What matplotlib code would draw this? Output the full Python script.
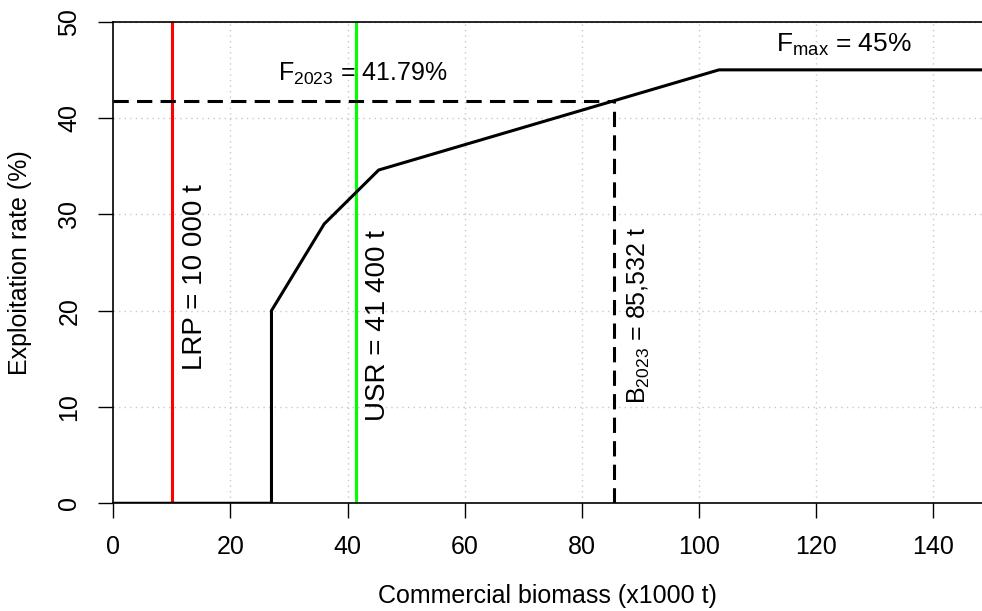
import matplotlib
matplotlib.use("Agg")
import matplotlib.pyplot as plt

plt.rcParams['font.family'] = ['Liberation Sans', 'DejaVu Sans']
plt.rcParams['mathtext.default'] = 'regular'

# harvest control rule (x1000 t, %)
hcr_biomass = [0, 27, 27, 36, 45.3, 103.4, 150]
hcr_rate = [0, 0, 20, 29, 34.6, 45, 45]

lrp = 10.0
usr = 41.4
b2023 = 85.532
f2023 = 41.79
fmax = 45

x_ticks = [0, 20, 40, 60, 80, 100, 120, 140]
y_ticks = [0, 10, 20, 30, 40, 50]

fig = plt.figure(figsize=(9.82, 6.11), dpi=100)
ax = fig.add_axes([0.1154, 0.1763, 0.8846, 0.7882])

# dotted grid
for xt in x_ticks[1:]:
    ax.axvline(xt, color='#c8c8c8', lw=1, ls=(0, (1, 3)), zorder=0)
for yt in y_ticks[1:]:
    ax.axhline(yt, color='#c8c8c8', lw=1, ls=(0, (1, 3)), zorder=0)

ax.plot(hcr_biomass, hcr_rate, color='black', lw=2.2, zorder=3)
ax.axvline(lrp, color='#ff0000', lw=2.2, zorder=2)
ax.axvline(usr, color='#00ff00', lw=2.2, zorder=2)

dash = (0, (5, 2.7))
ax.plot([0, b2023], [f2023, f2023], color='black', lw=2.2, ls=dash, zorder=2)
ax.plot([b2023, b2023], [0, f2023], color='black', lw=2.2, ls=dash, zorder=2)

ax.text(14.0, 23.5, 'LRP = 10 000 t', rotation=90, ha='center', va='center', fontsize=20)
ax.text(45.2, 18.5, 'USR = 41 400 t', rotation=90, ha='center', va='center', fontsize=20)
ax.text(89.7, 19.5, 'B$_{2023}$ = 85,532 t', rotation=90, ha='center', va='center', fontsize=18)
ax.text(42.5, 44.6, 'F$_{2023}$ = 41.79%', ha='center', va='center', fontsize=18)
ax.text(124.7, 47.6, 'F$_{max}$ = 45%', ha='center', va='center', fontsize=19)

ax.set_xlim(0, 148.3)
ax.set_ylim(0, 50)
ax.set_xticks(x_ticks)
ax.set_yticks(y_ticks)
ax.tick_params(axis='both', labelsize=18, length=11, width=1)
ax.tick_params(axis='x', pad=12)
ax.tick_params(axis='y', pad=12)
for lab in ax.get_yticklabels():
    lab.set_rotation(90)
    lab.set_va('center')
ax.spines['right'].set_visible(False)
for s in ['left', 'bottom', 'top']:
    ax.spines[s].set_linewidth(1.2)

ax.set_xlabel('Commercial biomass (x1000 t)', fontsize=18, labelpad=18)
ax.set_ylabel('Exploitation rate (%)', fontsize=18, labelpad=18)

fig.savefig('out.png', dpi=100)
